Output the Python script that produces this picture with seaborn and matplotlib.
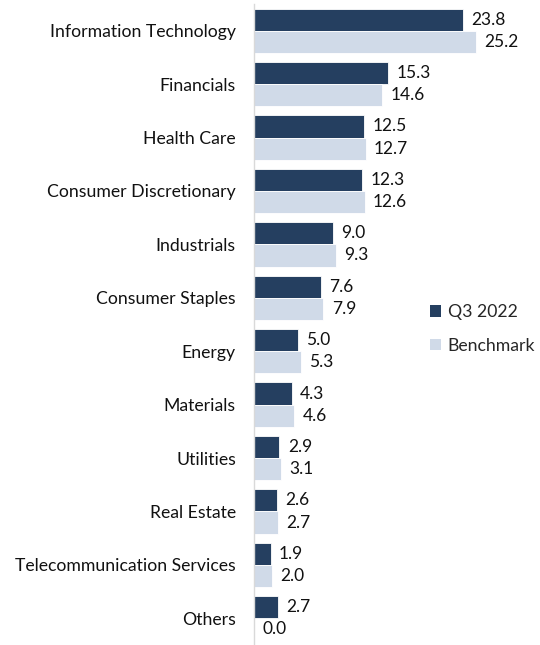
import matplotlib
matplotlib.use("Agg")
import matplotlib.pyplot as plt
import seaborn as sns
import pandas as pd
import numpy as np
from matplotlib.patches import Patch

sectors = ["Information Technology", "Financials", "Health Care", "Consumer Discretionary",
           "Industrials", "Consumer Staples", "Energy", "Materials", "Utilities",
           "Real Estate", "Telecommunication Services", "Others"]
q3_2022 = [23.8, 15.3, 12.5, 12.3, 9.0, 7.6, 5.0, 4.3, 2.9, 2.6, 1.9, 2.7]
benchmark = [25.2, 14.6, 12.7, 12.6, 9.3, 7.9, 5.3, 4.6, 3.1, 2.7, 2.0, 0.0]
series_names = ["Q3 2022", "Benchmark"]
colors = ["#253F60", "#D0DAE8"]

df = pd.DataFrame({
    "Sector": sectors * 2,
    "Weight": q3_2022 + benchmark,
    "Series": [series_names[0]] * len(sectors) + [series_names[1]] * len(sectors),
})

sns.set_theme(style="white")
plt.rcParams["font.family"] = ["Lato", "DejaVu Sans"]

fig = plt.figure(figsize=(5.40, 6.45), dpi=100)
ax = fig.add_axes([254 / 540, 0, (530 - 254) / 540, 1 - 4 / 645])

sns.barplot(data=df, y="Sector", x="Weight", hue="Series", order=sectors,
            hue_order=series_names, palette=colors, width=0.83, dodge=True,
            orient="h", ax=ax, legend=False, saturation=1, linewidth=0.6)

for container in ax.containers:
    ax.bar_label(container, fmt="%.1f", padding=6, fontsize=12.5, color="#111111")

ax.set_xlim(0, 31.4)
ax.set_ylim(len(sectors) - 0.5, -0.5)
ax.set_xlabel("")
ax.set_ylabel("")
ax.set_xticks([])
for side in ["top", "right", "bottom"]:
    ax.spines[side].set_visible(False)
ax.spines["left"].set_color("#D9D9D9")
ax.spines["left"].set_linewidth(1)
ax.tick_params(axis="y", which="major", length=0, pad=13, labelsize=12.7, labelcolor="#111111")
ax.set_yticks(np.arange(-0.5, len(sectors), 1), minor=True)
ax.tick_params(axis="y", which="minor", length=4, color="#D9D9D9", width=1)

handles = [Patch(facecolor=c, edgecolor="none") for c in colors]
fig.legend(handles, series_names, loc="center left", bbox_to_anchor=(430 / 540, 1 - 329 / 645),
           frameon=False, fontsize=12.7, handlelength=0.6, handleheight=0.6,
           handletextpad=0.4, labelspacing=1.0, borderpad=0, borderaxespad=0)

fig.savefig("out.png", dpi=100)
